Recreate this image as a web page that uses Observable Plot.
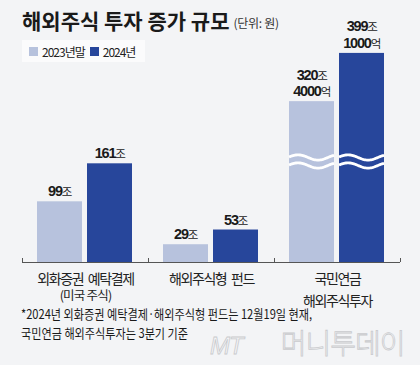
<!DOCTYPE html>
<html><head><meta charset="utf-8">
<script src="https://cdn.jsdelivr.net/npm/d3@7"></script>
<script src="https://cdn.jsdelivr.net/npm/@observablehq/plot@0.6"></script>
<style>
html,body{margin:0;padding:0;background:#f3f4f6;}
#wrap{position:relative;width:420px;height:365px;overflow:hidden;background:#f3f4f6;font-family:"Noto Sans CJK KR","Noto Sans",sans-serif;color:#1b1b1b;}
#chart{position:absolute;left:0;top:0;}
#title{position:absolute;left:22px;top:8px;font-size:21px;line-height:24px;font-weight:700;white-space:nowrap;color:#1a1a1a;}
#title .unit{font-size:12px;font-weight:400;margin-left:4px;color:#333;letter-spacing:-0.3px;vertical-align:1px;}
#legend{position:absolute;left:22px;top:40px;width:123px;height:22px;background:#fbfbfc;display:flex;align-items:center;font-size:12px;letter-spacing:-1px;color:#222;white-space:nowrap;}
#legend .sw{display:inline-block;width:9px;height:9px;margin-right:4px;}
#legend .item{display:flex;align-items:center;}
#note{position:absolute;left:21px;top:304px;font-size:13px;line-height:19px;color:#1a1a1a;white-space:nowrap;transform:scaleX(0.855);transform-origin:left top;}
#wm{position:absolute;left:210px;top:322px;white-space:nowrap;color:transparent;-webkit-text-stroke:0.8px #c9cacd;}
#wm .mt{font-family:"Liberation Sans";font-style:italic;font-size:24px;letter-spacing:-1px;margin-right:38px;}
#wm .name{font-size:28px;font-weight:300;letter-spacing:-1px;}
.vlabel .num{font-family:"Liberation Sans",sans-serif;font-weight:700;letter-spacing:-1.2px;}
.vlabel .unit{font-family:"Noto Sans CJK KR",sans-serif;font-size:11.5px;font-weight:400;letter-spacing:-0.5px;}
.clabel text{letter-spacing:-1.4px;word-spacing:3px;}
</style>
</head>
<body>
<div id="wrap">
  <div id="title">해외주식 투자 증가 규모<span class="unit">(단위: 원)</span></div>
  <div id="legend"></div>
  <div id="note"></div>
  <div id="wm"><span class="mt">MT</span><span class="name">머니투데이</span></div>
</div>
<script>
// ---- data ----
const categories = ["외화증권 예탁결제", "해외주식형 펀드", "국민연금 해외주식투자"];
const labelLine1 = ["외화증권 예탁결제", "해외주식형 펀드", "국민연금"];
const labelLine2 = ["(미국 주식)", "", "해외주식투자"];
const series = ["2023년말", "2024년"];
const values2023 = [99, 29, 320.4];   // 조 원
const values2024 = [161, 53, 399.1];  // 조 원
const seriesColors = ["#b7c2dd", "#27469b"];
const noteLines = ["*2024년 외화증권 예탁결제·해외주식형 펀드는 12월19일 현재,", "국민연금 해외주식투자는 3분기 기준"];
const breakFrom = 164, breakTo = 222; // broken-axis gap (조)

// ---- tables ----
const data = categories.flatMap((c, i) => [
  {category: c, series: series[0], value: values2023[i]},
  {category: c, series: series[1], value: values2024[i]}
]);
const labelRows = categories.map((c, i) => ({category: c, label: labelLine2[i] ? `${labelLine1[i]}\n${labelLine2[i]}` : labelLine1[i]}));
const fmt = v => {
  const jo = Math.floor(v);
  const eok = Math.round((v - jo) * 10000);
  return eok ? `${jo}조\n${eok}억` : `${jo}조`;
};

// ---- scale geometry ----
const W = 420, H = 305, baseline = 262, k = 0.613, yMax = 430;
const yDomain = [0, breakFrom, breakTo, yMax];
const yRange = [baseline, baseline - breakFrom * k, baseline - breakFrom * k, baseline - (yMax - (breakTo - breakFrom)) * k];
const labelFont = 14;

const chart = Plot.plot({
  width: W, height: H,
  marginLeft: 21, marginRight: 20, marginTop: 0, marginBottom: H - baseline,
  style: {background: "transparent", overflow: "visible"},
  fx: {domain: categories, padding: 0, axis: null},
  x: {domain: series, axis: null, paddingInner: 0.098, paddingOuter: 0.287},
  y: {type: "linear", domain: yDomain, range: yRange, axis: null},
  color: {domain: series, range: seriesColors},
  marks: [
    Plot.barY(data, {fx: "category", x: "series", y: "value", fill: "series", className: "bars"}),
    Plot.ruleY([0], {stroke: "#555", strokeWidth: 1}),
    Plot.text(data, {fx: "category", x: "series", y: "value", text: d => fmt(d.value),
      lineAnchor: "bottom", dy: -5.5, fontSize: 14.5, lineHeight: 1.14, fill: "#1a1a1a", className: "vlabel"}),
    Plot.text(labelRows, {fx: "category", text: "label", frameAnchor: "bottom", lineAnchor: "top", dy: 5.4,
      lineHeight: 1.6, fontSize: labelFont, fill: "#222", fontFamily: "Noto Sans CJK KR", className: "clabel"})
  ]
});
chart.id = "chart";
document.getElementById("wrap").prepend(chart);

const svg = d3.select(chart);

// value labels: bold number + small unit
svg.selectAll(".vlabel text").each(function() {
  const tsp = Array.from(this.querySelectorAll("tspan"));
  const targets = tsp.length ? tsp : [this];
  for (const node of targets) {
    const m = node.textContent.match(/^(\d+)(\D+)$/);
    if (!m) continue;
    node.textContent = "";
    d3.select(node).append("tspan").attr("class", "num").text(m[1]);
    d3.select(node).append("tspan").attr("class", "unit").text(m[2]);
  }
});

// the parenthetical sub-label is set smaller and closer to its first line
svg.selectAll(".clabel text").each(function() {
  const tsp = Array.from(this.querySelectorAll("tspan"));
  if (tsp.length < 2 || !tsp[1].textContent.startsWith("(")) return;
  tsp[1].style.fontSize = "12.5px";
  tsp[1].style.letterSpacing = "-0.8px";
  tsp[1].style.wordSpacing = "0px";
  tsp[1].setAttribute("dy", "16");
});

// axis ticks at group edges
const fxS = chart.scale("fx"), yS = chart.scale("y");
const edges = [...categories.map(c => fxS.apply(c)), fxS.apply(categories[categories.length - 1]) + fxS.bandwidth];
const y0 = yS.apply(0);
svg.append("g").selectAll("line").data(edges).join("line")
  .attr("x1", d => Math.round(d) + 0.5).attr("x2", d => Math.round(d) + 0.5)
  .attr("y1", y0 - 4).attr("y2", y0).attr("stroke", "#555");

// break waves on the broken bars
const svgBox = chart.getBoundingClientRect();
const brokenLeft = fxS.apply(categories[2]);
const waveY = yS.apply(breakFrom);
const gw = svg.append("g");
svg.selectAll(".bars rect").nodes().forEach(node => {
  const b = node.getBoundingClientRect();
  const x = b.left - svgBox.left, w = b.width;
  if (x < brokenLeft) return;
  for (const off of [-4, 4]) {
    const pts = d3.range(0, w + 0.01, 1).map(t => [x + t, waveY + off - 2.6 * Math.cos(2 * Math.PI * (t - 9) / 40)]);
    gw.append("path").attr("d", d3.line()(pts)).attr("fill", "none").attr("stroke", "#fff").attr("stroke-width", 2.8);
  }
});

// legend
const legend = d3.select("#legend");
series.forEach((s, i) => {
  const it = legend.append("span").attr("class", "item");
  it.append("span").attr("class", "sw").style("background", seriesColors[i]).style("margin-left", i ? "5px" : "7px");
  it.append("span").text(s);
});
// footnote
d3.select("#note").selectAll("div").data(noteLines).join("div").text(d => d);
</script>
</body></html>
